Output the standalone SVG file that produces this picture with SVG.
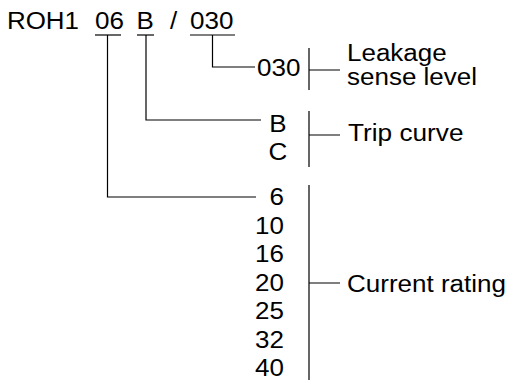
<svg xmlns="http://www.w3.org/2000/svg" width="508" height="380" viewBox="0 0 508 380">
<style>
text{font-family:"Liberation Sans",Arial,sans-serif;font-size:23px;fill:#000}
.r{text-anchor:end}
.m{text-anchor:middle}
line,path{stroke:#000;stroke-width:1.2;fill:none}
</style>
<rect width="508" height="380" fill="#fff"/>
<g id="code">
<text x="7" y="28.5" textLength="72" lengthAdjust="spacingAndGlyphs">ROH1</text>
<text x="95" y="28.5" textLength="29" lengthAdjust="spacingAndGlyphs">06</text>
<text x="136.5" y="28.5" textLength="17.3" lengthAdjust="spacingAndGlyphs">B</text>
<text x="170" y="28.5" textLength="7.2" lengthAdjust="spacingAndGlyphs">/</text>
<text x="190" y="28.5" textLength="43.4" lengthAdjust="spacingAndGlyphs">030</text>
</g>
<g id="leakage">
<text x="257" y="76" textLength="43.4" lengthAdjust="spacingAndGlyphs">030</text>
<text x="347" y="61" textLength="99.7" lengthAdjust="spacingAndGlyphs">Leakage</text>
<text x="347" y="85" textLength="130" lengthAdjust="spacingAndGlyphs">sense level</text>
</g>
<g id="trip">
<text class="m" x="278" y="132" textLength="17.3" lengthAdjust="spacingAndGlyphs">B</text>
<text class="m" x="278" y="160" textLength="18.8" lengthAdjust="spacingAndGlyphs">C</text>
<text x="348" y="141" textLength="115.5" lengthAdjust="spacingAndGlyphs">Trip curve</text>
</g>
<g id="current">
<text class="r" x="284" y="205" textLength="14.5" lengthAdjust="spacingAndGlyphs">6</text>
<text class="r" x="284" y="233.5" textLength="28.9" lengthAdjust="spacingAndGlyphs">10</text>
<text class="r" x="284" y="262" textLength="28.9" lengthAdjust="spacingAndGlyphs">16</text>
<text class="r" x="284" y="290.5" textLength="28.9" lengthAdjust="spacingAndGlyphs">20</text>
<text class="r" x="284" y="319" textLength="28.9" lengthAdjust="spacingAndGlyphs">25</text>
<text class="r" x="284" y="347.5" textLength="28.9" lengthAdjust="spacingAndGlyphs">32</text>
<text class="r" x="284" y="376" textLength="28.9" lengthAdjust="spacingAndGlyphs">40</text>
<text x="347" y="292" textLength="158.9" lengthAdjust="spacingAndGlyphs">Current rating</text>
</g>
<g id="connectors">
<line x1="95" y1="35" x2="121" y2="35"/>
<line x1="137" y1="35" x2="154" y2="35"/>
<line x1="190" y1="35" x2="235" y2="35"/>
<path d="M107.5 35V197H256"/>
<path d="M146 35V120H261"/>
<path d="M212.5 35V67H255"/>
<path d="M309 48V90M309 70H340"/>
<path d="M309 111V167M309 135H340"/>
<path d="M309 185V380M309 283H340"/>
</g>
</svg>
